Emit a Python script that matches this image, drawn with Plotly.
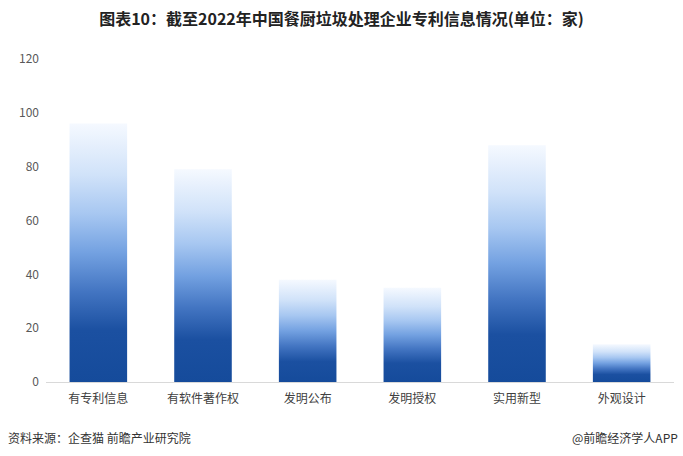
import plotly.graph_objects as go

categories = ["有专利信息", "有软件著作权", "发明公布", "发明授权", "实用新型", "外观设计"]
values = [96, 79, 38, 35, 88, 14]
y_ticks = [0, 20, 40, 60, 80, 100, 120]

title_text = "图表10：截至2022年中国餐厨垃圾处理企业专利信息情况(单位：家)"
source_text = "资料来源：企查猫 前瞻产业研究院"
brand_text = "@前瞻经济学人APP"

font_family = "Noto Sans CJK SC, Microsoft YaHei, sans-serif"

fig = go.Figure()
fig.add_trace(go.Bar(
    x=categories, y=values,
    marker=dict(color="#4a7fc8", line=dict(width=0)),
    width=0.55,
    hoverinfo="x+y",
))

fig.update_layout(
    width=683, height=456,
    margin=dict(l=46, r=9, t=59, b=74),
    paper_bgcolor="white", plot_bgcolor="white",
    showlegend=False,
    font=dict(family=font_family, size=12, color="#595959"),
    title=dict(text="<b>" + title_text + "</b>", x=0.5, xanchor="center",
               y=1 - 19/456, yanchor="middle",
               font=dict(family=font_family, size=16, color="#222222")),
    xaxis=dict(showgrid=False, showline=True, linecolor="#d9d9d9", linewidth=1,
               ticks="", tickfont=dict(size=12, color="#404040"),
               ticklabelstandoff=6),
    yaxis=dict(range=[0, 120], tickvals=y_ticks, showgrid=False, zeroline=False,
               showline=False, ticks="", tickfont=dict(size=12, color="#595959"),
               ticklabelstandoff=6),
)

fig.add_annotation(text=source_text, xref="paper", yref="paper",
                   x=-40/628, y=-(437-382)/323, xanchor="left", yanchor="middle",
                   showarrow=False, font=dict(size=12, color="#333333"))
fig.add_annotation(text=brand_text, xref="paper", yref="paper",
                   x=1 + 6/628, y=-(437-382)/323, xanchor="right", yanchor="middle",
                   showarrow=False, font=dict(size=12, color="#333333"))

post = """
document.body.style.margin = '0';
var gd = document.getElementById('{plot_id}');
function applyGrad(){
  var svg = gd.querySelector('svg.main-svg');
  if(!svg) return;
  var ns = 'http://www.w3.org/2000/svg';
  if(!svg.querySelector('#barGrad')){
    var defs = svg.querySelector('defs');
    if(!defs){ defs = document.createElementNS(ns,'defs'); svg.insertBefore(defs, svg.firstChild); }
    var g = document.createElementNS(ns,'linearGradient');
    g.setAttribute('id','barGrad');
    g.setAttribute('x1','0'); g.setAttribute('y1','0');
    g.setAttribute('x2','0'); g.setAttribute('y2','1');
    var stops = [[0,'#f5f9ff'],[0.2,'#d0e2f9'],[0.35,'#a7c7f1'],[0.5,'#73a1e1'],[0.65,'#4375c2'],[0.8,'#1b50a1'],[1,'#154b9b']];
    stops.forEach(function(s){
      var st = document.createElementNS(ns,'stop');
      st.setAttribute('offset', s[0]); st.setAttribute('stop-color', s[1]);
      g.appendChild(st);
    });
    defs.appendChild(g);
  }
  gd.querySelectorAll('.trace.bars .point path').forEach(function(p){
    p.style.fill = 'url(#barGrad)';
  });
}
applyGrad();
gd.on('plotly_afterplot', applyGrad);
"""

fig.write_html("out.html", post_script=post, config={"displayModeBar": False})
